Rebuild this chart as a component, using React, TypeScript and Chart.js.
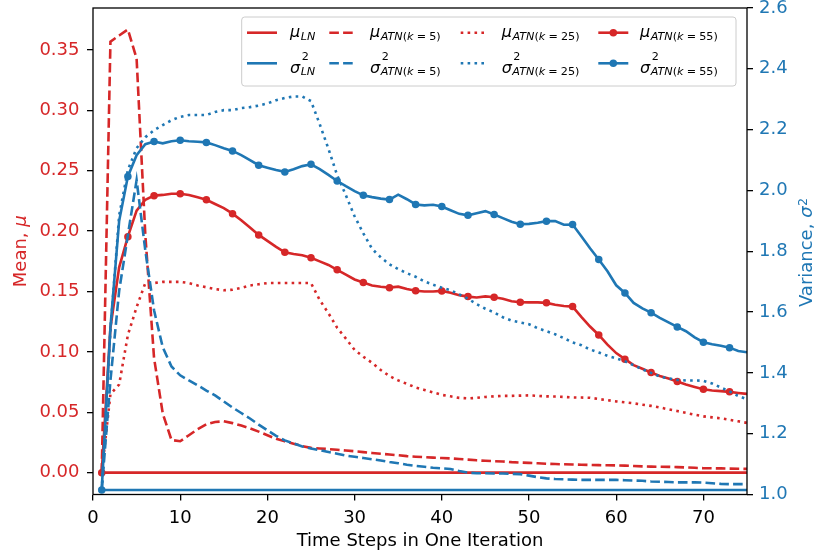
import React, { useEffect, useRef } from "react";
import { Chart, registerables } from "chart.js";

Chart.register(...registerables);

const RED = "#d62728";
const BLUE = "#1f77b4";
const FONT = '"DejaVu Sans", sans-serif';

// ---------- data ----------
const timeSteps = [
  1, 2, 3, 4, 5, 6, 7, 8, 9, 10, 11, 12, 13, 14, 15, 16, 17, 18, 19, 20, 21, 22, 23, 24, 25,
  26, 27, 28, 29, 30, 31, 32, 33, 34, 35, 36, 37, 38, 39, 40, 41, 42, 43, 44, 45, 46, 47, 48, 49, 50,
  51, 52, 53, 54, 55, 56, 57, 58, 59, 60, 61, 62, 63, 64, 65, 66, 67, 68, 69, 70, 71, 72, 73, 74, 75,
];
const xTicks = [0, 10, 20, 30, 40, 50, 60, 70];
const meanTicks = [0, 0.05, 0.1, 0.15, 0.2, 0.25, 0.3, 0.35];
const varTicks = [1.0, 1.2, 1.4, 1.6, 1.8, 2.0, 2.2, 2.4, 2.6];

const muLN = [
  0, 0, 0, 0, 0, 0, 0, 0, 0, 0, 0, 0, 0, 0, 0, 0, 0, 0, 0, 0, 0, 0, 0, 0, 0,
  0, 0, 0, 0, 0, 0, 0, 0, 0, 0, 0, 0, 0, 0, 0, 0, 0, 0, 0, 0, 0, 0, 0, 0, 0,
  0, 0, 0, 0, 0, 0, 0, 0, 0, 0, 0, 0, 0, 0, 0, 0, 0, 0, 0, 0, 0, 0, 0, 0, 0,
];
const sigmaLN = [
  1.015, 1.015, 1.015, 1.015, 1.015, 1.015, 1.015, 1.015, 1.015, 1.015, 1.015, 1.015, 1.015, 1.015, 1.015,
  1.015, 1.015, 1.015, 1.015, 1.015, 1.015, 1.015, 1.015, 1.015, 1.015, 1.015, 1.015, 1.015, 1.015, 1.015,
  1.015, 1.015, 1.015, 1.015, 1.015, 1.015, 1.015, 1.015, 1.015, 1.015, 1.015, 1.015, 1.015, 1.015, 1.015,
  1.015, 1.015, 1.015, 1.015, 1.015, 1.015, 1.015, 1.015, 1.015, 1.015, 1.015, 1.015, 1.015, 1.015, 1.015,
  1.015, 1.015, 1.015, 1.015, 1.015, 1.015, 1.015, 1.015, 1.015, 1.015, 1.015, 1.015, 1.015, 1.015, 1.015,
];
const muATN5 = [
  0, 0.357, 0.362, 0.367, 0.343, 0.197, 0.095, 0.049, 0.027, 0.026,
  0.031, 0.036, 0.04, 0.042, 0.0425, 0.041, 0.039, 0.0367, 0.034, 0.031,
  0.028, 0.026, 0.024, 0.022, 0.0205, 0.02, 0.0195, 0.019, 0.0183, 0.0177,
  0.017, 0.0163, 0.0156, 0.015, 0.0144, 0.0137, 0.0132, 0.0128, 0.0124, 0.0121,
  0.0118, 0.0113, 0.0108, 0.0102, 0.0098, 0.0095, 0.0092, 0.0087, 0.0084, 0.0081,
  0.0078, 0.0074, 0.0071, 0.0069, 0.0067, 0.0066, 0.0064, 0.0062, 0.0061, 0.006,
  0.0058, 0.0055, 0.0052, 0.005, 0.0049, 0.0048, 0.0046, 0.0043, 0.004, 0.0037,
  0.0036, 0.0035, 0.0033, 0.0032, 0.0031,
];
const sigmaATN5 = [
  1.015, 1.375, 1.67, 1.853, 2.034, 1.803, 1.606, 1.484, 1.421, 1.392,
  1.375, 1.359, 1.342, 1.326, 1.306, 1.286, 1.268, 1.25, 1.23, 1.211,
  1.193, 1.178, 1.168, 1.158, 1.151, 1.146, 1.14, 1.134, 1.128, 1.124,
  1.12, 1.116, 1.112, 1.107, 1.103, 1.098, 1.094, 1.091, 1.088, 1.086,
  1.084, 1.077, 1.072, 1.07, 1.07, 1.069, 1.069, 1.068, 1.067, 1.062,
  1.057, 1.053, 1.051, 1.05, 1.049, 1.048, 1.048, 1.048, 1.048, 1.048,
  1.047, 1.046, 1.045, 1.043, 1.042, 1.041, 1.04, 1.04, 1.04, 1.039,
  1.037, 1.035, 1.034, 1.034, 1.034,
];
const muATN25 = [
  0, 0.065, 0.073, 0.114, 0.137, 0.157, 0.157, 0.158, 0.158, 0.158,
  0.157, 0.155, 0.1535, 0.152, 0.151, 0.1515, 0.153, 0.155, 0.156, 0.157,
  0.157, 0.157, 0.157, 0.157, 0.157, 0.143, 0.132, 0.12, 0.111, 0.1017,
  0.096, 0.091, 0.085, 0.08, 0.0764, 0.0735, 0.0706, 0.0685, 0.0665, 0.0644,
  0.0632, 0.0619, 0.0615, 0.0619, 0.0627, 0.0632, 0.0636, 0.0636, 0.0638, 0.064,
  0.0636, 0.0632, 0.063, 0.0627, 0.0623, 0.0622, 0.062, 0.061, 0.06, 0.059,
  0.0582, 0.0574, 0.0563, 0.0553, 0.054, 0.0524, 0.051, 0.0495, 0.048, 0.0466,
  0.0458, 0.045, 0.0438, 0.0425, 0.0412,
];
const sigmaATN25 = [
  1.015, 1.54, 1.918, 2.067, 2.139, 2.175, 2.198, 2.215, 2.231, 2.242,
  2.248, 2.248, 2.248, 2.258, 2.264, 2.264, 2.271, 2.274, 2.279, 2.286,
  2.297, 2.304, 2.309, 2.309, 2.294, 2.218, 2.137, 2.05, 1.984, 1.915,
  1.859, 1.808, 1.78, 1.757, 1.741, 1.728, 1.716, 1.701, 1.69, 1.68,
  1.672, 1.658, 1.644, 1.626, 1.611, 1.599, 1.583, 1.572, 1.566, 1.56,
  1.547, 1.537, 1.527, 1.514, 1.5, 1.491, 1.477, 1.467, 1.456, 1.448,
  1.438, 1.425, 1.412, 1.4, 1.388, 1.382, 1.377, 1.375, 1.375, 1.374,
  1.365, 1.352, 1.339, 1.324, 1.313,
];
const muATN55 = [
  0, 0.12, 0.17, 0.1954, 0.217, 0.226, 0.2294, 0.23, 0.231, 0.231,
  0.23, 0.228, 0.226, 0.2225, 0.219, 0.2145, 0.209, 0.203, 0.1969, 0.192,
  0.187, 0.1825, 0.181, 0.18, 0.178, 0.175, 0.172, 0.168, 0.164, 0.16,
  0.1574, 0.155, 0.154, 0.1532, 0.154, 0.152, 0.1507, 0.15, 0.15, 0.1505,
  0.149, 0.147, 0.1458, 0.145, 0.146, 0.1453, 0.144, 0.142, 0.1411, 0.141,
  0.141, 0.1406, 0.139, 0.138, 0.1375, 0.129, 0.121, 0.114, 0.106, 0.099,
  0.094, 0.089, 0.086, 0.0829, 0.08, 0.078, 0.0754, 0.073, 0.071, 0.0691,
  0.068, 0.0675, 0.0669, 0.066, 0.0652,
];
const sigmaATN55 = [
  1.015, 1.55, 1.9, 2.046, 2.116, 2.152, 2.161, 2.155, 2.162, 2.165,
  2.162, 2.16, 2.158, 2.149, 2.139, 2.13, 2.116, 2.1, 2.083, 2.075,
  2.067, 2.061, 2.07, 2.08, 2.086, 2.07, 2.051, 2.031, 2.014, 1.998,
  1.984, 1.978, 1.973, 1.97, 1.986, 1.971, 1.954, 1.951, 1.953, 1.947,
  1.935, 1.923, 1.918, 1.925, 1.932, 1.921, 1.909, 1.897, 1.889, 1.89,
  1.894, 1.899, 1.899, 1.887, 1.888, 1.849, 1.81, 1.773, 1.734, 1.688,
  1.663, 1.63, 1.612, 1.598, 1.581, 1.566, 1.551, 1.537, 1.517, 1.501,
  1.494, 1.489, 1.483, 1.472, 1.468,
];

// ---------- text ----------
const xTitle = "Time Steps in One Iteration";
const yTitleMain = "Mean, ";
const yTitleSym = "μ";
const y1TitleMain = "Variance, ";
const y1TitleSym = "σ";

type Seg = [string, boolean];
const subLN: Seg[] = [["LN", true]];
const subK = (k: string): Seg[] => [["ATN", true], ["(", false], ["k", true], ["=", false], [k, false], [")", false]];

type LegendEntry = { col: number; row: number; color: string; kind: "solid" | "dashed" | "dotted" | "marker"; sym: string; sup: boolean; sub: Seg[] };
const legendEntries: LegendEntry[] = [
  { col: 0, row: 0, color: RED, kind: "solid", sym: "μ", sup: false, sub: subLN },
  { col: 0, row: 1, color: BLUE, kind: "solid", sym: "σ", sup: true, sub: subLN },
  { col: 1, row: 0, color: RED, kind: "dashed", sym: "μ", sup: false, sub: subK("5") },
  { col: 1, row: 1, color: BLUE, kind: "dashed", sym: "σ", sup: true, sub: subK("5") },
  { col: 2, row: 0, color: RED, kind: "dotted", sym: "μ", sup: false, sub: subK("25") },
  { col: 2, row: 1, color: BLUE, kind: "dotted", sym: "σ", sup: true, sub: subK("25") },
  { col: 3, row: 0, color: RED, kind: "marker", sym: "μ", sup: false, sub: subK("55") },
  { col: 3, row: 1, color: BLUE, kind: "marker", sym: "σ", sup: true, sub: subK("55") },
];

// ---------- styles ----------
const LW = 2.6;
const DASH = [9.6, 4.2];
const DOT = [2.6, 4.3];
const MARK_R = 3.75;
const TICK_SIZE = 18;
const LEG_SIZE = 16;

const fnt = (size: number, italic = false) => `${italic ? "italic " : ""}${size}px ${FONT}`;

function drawSegs(ctx: CanvasRenderingContext2D, segs: Seg[], x: number, y: number, size: number) {
  let cx = x;
  for (const [t, it] of segs) {
    if (t === "=") cx += size * 0.28;
    ctx.font = fnt(size, it);
    ctx.fillText(t, cx, y);
    cx += ctx.measureText(t).width;
    if (t === "=") cx += size * 0.28;
  }
  return cx;
}

const decorPlugin = {
  id: "decor",
  afterDraw(chart: any) {
    const ctx: CanvasRenderingContext2D = chart.ctx;
    const a = chart.chartArea;
    ctx.save();
    ctx.textBaseline = "alphabetic";
    ctx.textAlign = "left";

    // spines
    ctx.strokeStyle = "#000";
    ctx.lineWidth = 1.3;
    ctx.strokeRect(a.left, a.top, a.right - a.left, a.bottom - a.top);

    // x title
    ctx.fillStyle = "#000";
    ctx.font = fnt(TICK_SIZE);
    ctx.textAlign = "center";
    ctx.fillText(xTitle, (a.left + a.right) / 2, 546);
    ctx.textAlign = "left";

    // left y title
    const cy = (a.top + a.bottom) / 2;
    ctx.save();
    ctx.translate(25.5, cy);
    ctx.rotate(-Math.PI / 2);
    ctx.fillStyle = RED;
    ctx.font = fnt(TICK_SIZE);
    const w1 = ctx.measureText(yTitleMain).width;
    ctx.font = fnt(TICK_SIZE, true);
    const w2 = ctx.measureText(yTitleSym).width;
    let sx = -(w1 + w2) / 2;
    ctx.font = fnt(TICK_SIZE);
    ctx.fillText(yTitleMain, sx, 0);
    ctx.font = fnt(TICK_SIZE, true);
    ctx.fillText(yTitleSym, sx + w1, 0);
    ctx.restore();

    // right y title
    ctx.save();
    ctx.translate(811.5, cy + 1.5);
    ctx.rotate(-Math.PI / 2);
    ctx.fillStyle = BLUE;
    ctx.font = fnt(TICK_SIZE);
    const v1 = ctx.measureText(y1TitleMain).width;
    ctx.font = fnt(TICK_SIZE, true);
    const v2 = ctx.measureText(y1TitleSym).width;
    ctx.font = fnt(TICK_SIZE * 0.7);
    const v3 = ctx.measureText("2").width;
    sx = -(v1 + v2 + v3) / 2;
    ctx.font = fnt(TICK_SIZE);
    ctx.fillText(y1TitleMain, sx, 0);
    ctx.font = fnt(TICK_SIZE, true);
    ctx.fillText(y1TitleSym, sx + v1, 0);
    ctx.font = fnt(TICK_SIZE * 0.7);
    ctx.fillText("2", sx + v1 + v2 + 0.5, -5);
    ctx.restore();

    // legend frame
    const bx = 241.7, by = 17, bw = 494.3, bh = 69, r = 3;
    ctx.beginPath();
    ctx.moveTo(bx + r, by);
    ctx.lineTo(bx + bw - r, by);
    ctx.quadraticCurveTo(bx + bw, by, bx + bw, by + r);
    ctx.lineTo(bx + bw, by + bh - r);
    ctx.quadraticCurveTo(bx + bw, by + bh, bx + bw - r, by + bh);
    ctx.lineTo(bx + r, by + bh);
    ctx.quadraticCurveTo(bx, by + bh, bx, by + bh - r);
    ctx.lineTo(bx, by + r);
    ctx.quadraticCurveTo(bx, by, bx + r, by);
    ctx.closePath();
    ctx.fillStyle = "rgba(255,255,255,0.8)";
    ctx.fill();
    ctx.strokeStyle = "#cccccc";
    ctx.lineWidth = 1;
    ctx.stroke();

    const handleX = [248.3, 329.3, 460.7, 599.6];
    const handleLen = 27.4;
    const labelX = [290, 370, 501.7, 640];
    const lineY = [32.7, 63.3];
    const baseY = [36.5, 72.5];
    const subY = [39.5, 75];
    const supY = 59.5;

    for (const e of legendEntries) {
      const hx = handleX[e.col];
      const hy = lineY[e.row];
      ctx.strokeStyle = e.color;
      ctx.lineWidth = LW;
      ctx.setLineDash(e.kind === "dashed" ? DASH : e.kind === "dotted" ? DOT : []);
      ctx.lineCap = e.kind === "solid" || e.kind === "marker" ? "square" : "butt";
      ctx.beginPath();
      ctx.moveTo(hx, hy);
      ctx.lineTo(hx + handleLen, hy);
      ctx.stroke();
      ctx.setLineDash([]);
      ctx.lineCap = "butt";
      if (e.kind === "marker") {
        ctx.fillStyle = e.color;
        ctx.beginPath();
        ctx.arc(hx + handleLen / 2, hy, MARK_R, 0, Math.PI * 2);
        ctx.fill();
      }
      // label
      ctx.fillStyle = "#000";
      const lx = labelX[e.col];
      ctx.font = fnt(LEG_SIZE, true);
      ctx.fillText(e.sym, lx, baseY[e.row]);
      const symW = ctx.measureText(e.sym).width;
      const subSize = LEG_SIZE * 0.7;
      if (e.sup) {
        ctx.font = fnt(subSize);
        ctx.fillText("2", lx + symW + 1.5, supY);
      }
      drawSegs(ctx, e.sub, lx + symW + 0.5, subY[e.row], subSize);
    }
    ctx.restore();
  },
};

export default function App() {
  const ref = useRef<HTMLCanvasElement>(null);

  useEffect(() => {
    const canvas = ref.current;
    if (!canvas) return;
    const mk = (vals: number[]) => timeSteps.map((t, i) => ({ x: t, y: vals[i] }));
    const every3 = (c: any) => (c.dataIndex % 3 === 0 ? MARK_R : 0);

    const base = { borderWidth: LW, pointRadius: 0, pointHoverRadius: 0, tension: 0, fill: false };
    const gridOpts = {
      display: true,
      drawOnChartArea: false,
      drawTicks: true,
      tickLength: 6,
      tickColor: "#000",
      tickWidth: 1.3,
      color: "#000",
      lineWidth: 1.3,
    };
    const noPad = (s: any) => {
      s.paddingTop = 0;
      s.paddingBottom = 0;
      s.paddingLeft = 0;
      s.paddingRight = 0;
    };

    const chart = new Chart(canvas, {
      type: "line",
      data: {
        datasets: [
          { ...base, label: "muLN", data: mk(muLN), yAxisID: "y", borderColor: RED, order: 1 },
          { ...base, label: "muATN5", data: mk(muATN5), yAxisID: "y", borderColor: RED, borderDash: DASH, order: 1 },
          { ...base, label: "muATN25", data: mk(muATN25), yAxisID: "y", borderColor: RED, borderDash: DOT, order: 1 },
          {
            ...base, label: "muATN55", data: mk(muATN55), yAxisID: "y", borderColor: RED, order: 1,
            pointRadius: every3, pointBackgroundColor: RED, pointBorderColor: RED, pointBorderWidth: 0,
          },
          { ...base, label: "sigmaLN", data: mk(sigmaLN), yAxisID: "y1", borderColor: BLUE, order: 0 },
          { ...base, label: "sigmaATN5", data: mk(sigmaATN5), yAxisID: "y1", borderColor: BLUE, borderDash: DASH, order: 0 },
          { ...base, label: "sigmaATN25", data: mk(sigmaATN25), yAxisID: "y1", borderColor: BLUE, borderDash: DOT, order: 0 },
          {
            ...base, label: "sigmaATN55", data: mk(sigmaATN55), yAxisID: "y1", borderColor: BLUE, order: 0,
            pointRadius: every3, pointBackgroundColor: BLUE, pointBorderColor: BLUE, pointBorderWidth: 0,
          },
        ],
      },
      options: {
        animation: false,
        responsive: false,
        devicePixelRatio: 1,
        events: [],
        layout: { padding: { top: 8, left: 0, right: 0, bottom: 0 } },
        plugins: { legend: { display: false }, tooltip: { enabled: false } },
        scales: {
          x: {
            type: "linear",
            min: 0,
            max: 75,
            afterBuildTicks: (s: any) => {
              s.ticks = xTicks.map((v) => ({ value: v }));
            },
            afterFit: (s: any) => {
              s.height = 62.5;
              noPad(s);
            },
            grid: gridOpts,
            border: { display: false },
            ticks: {
              color: "#000",
              font: { family: FONT, size: TICK_SIZE },
              padding: 7,
              autoSkip: false,
              maxRotation: 0,
              callback: (v: any) => String(v),
            },
          },
          y: {
            type: "linear",
            position: "left",
            min: -0.0181,
            max: 0.3848,
            afterBuildTicks: (s: any) => {
              s.ticks = meanTicks.map((v) => ({ value: v }));
            },
            afterFit: (s: any) => {
              s.width = 93;
              noPad(s);
            },
            grid: gridOpts,
            border: { display: false },
            ticks: {
              color: RED,
              font: { family: FONT, size: TICK_SIZE },
              padding: 7.5,
              autoSkip: false,
              callback: (v: any) => Number(v).toFixed(2),
            },
          },
          y1: {
            type: "linear",
            position: "right",
            min: 1.0,
            max: 2.6,
            afterBuildTicks: (s: any) => {
              s.ticks = varTicks.map((v) => ({ value: v }));
            },
            afterFit: (s: any) => {
              s.width = 67;
              noPad(s);
            },
            grid: gridOpts,
            border: { display: false },
            ticks: {
              color: BLUE,
              font: { family: FONT, size: TICK_SIZE },
              padding: 6,
              autoSkip: false,
              callback: (v: any) => Number(v).toFixed(1),
            },
          },
        },
      },
      plugins: [decorPlugin],
    } as any);

    return () => chart.destroy();
  }, []);

  return (
    <div style={{ position: "absolute", left: 0, top: 0, width: 814, height: 557, background: "#fff" }}>
      <canvas ref={ref} width={814} height={557} style={{ display: "block", width: 814, height: 557 }} />
    </div>
  );
}
